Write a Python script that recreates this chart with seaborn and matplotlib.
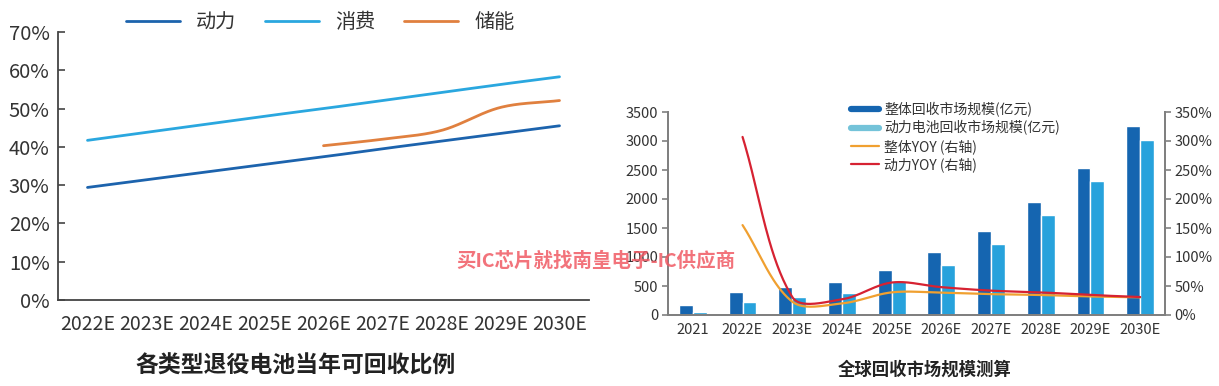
import numpy as np
import pandas as pd
import matplotlib.pyplot as plt
import seaborn as sns
from matplotlib.lines import Line2D

# ---- left chart data (%) ----
years_left = ["2022E", "2023E", "2024E", "2025E", "2026E", "2027E", "2028E", "2029E", "2030E"]
power_ratio = [29.4, 31.4, 33.4, 35.4, 37.4, 39.5, 41.5, 43.5, 45.5]
consumer_ratio = [41.7, 43.8, 45.9, 48.0, 50.0, 52.1, 54.2, 56.3, 58.3]
storage_years = ["2026E", "2027E", "2028E", "2029E", "2030E"]
storage_ratio = [40.3, 42.0, 44.3, 50.3, 52.1]

# ---- right chart data ----
years_right = ["2021", "2022E", "2023E", "2024E", "2025E", "2026E", "2027E", "2028E", "2029E", "2030E"]
total_market = [173, 398, 479, 565, 779, 1084, 1453, 1955, 2537, 3265]
power_market = [58, 219, 311, 381, 588, 865, 1228, 1724, 2307, 3020]
yoy_years = years_right[1:]
total_yoy = [155, 23, 20, 39, 38.5, 36, 34.5, 32, 30.5]
power_yoy = [307, 31, 27, 56, 48, 42, 39, 34.5, 31]

W, H = 1219, 386
TXT = "#333333"

sns.set_theme(style="white")
plt.rcParams["font.family"] = ["Noto Sans CJK SC", "DejaVu Sans"]


def excel_curve(xs, ys, sx, sy, n=40):
    # smoothed line like an office chart, drawn through the data points
    P = np.column_stack([np.asarray(xs, float) * sx, np.asarray(ys, float) * sy])
    k = len(P)
    t = np.linspace(0, 1, n)[1:, None]
    pts = [P[:1]]
    for i in range(k - 1):
        p0, p1 = P[i], P[i + 1]
        pm = P[i - 1] if i > 0 else p0
        pn = P[i + 2] if i + 2 < k else p1
        d0 = np.hypot(*(p0 - pm))
        d1 = np.hypot(*(p1 - p0))
        d2 = np.hypot(*(pn - p1))
        c1 = p0 + (p1 - pm) * d1 / (d0 + d1) / 3
        c2 = p1 - (pn - p0) * d1 / (d1 + d2) / 3
        seg = (1 - t) ** 3 * p0 + 3 * (1 - t) ** 2 * t * c1 + 3 * (1 - t) * t ** 2 * c2 + t ** 3 * p1
        pts.append(seg)
    out = np.vstack(pts)
    return out[:, 0] / sx, out[:, 1] / sy


fig = plt.figure(figsize=(W / 100, H / 100), dpi=100)

# ================= left chart =================
ax1 = fig.add_axes([58 / W, 1 - 300 / H, 531 / W, 268 / H])
c_power, c_cons, c_store = "#1c63ad", "#2aa7df", "#e0803f"
left_series = [
    ("动力", list(range(len(years_left))), power_ratio, c_power),
    ("消费", list(range(len(years_left))), consumer_ratio, c_cons),
    ("储能", [years_left.index(y) for y in storage_years], storage_ratio, c_store),
]
for name, xs, ys, col in left_series:
    cx, cy = excel_curve(xs, ys, 58.5, 3.83)
    sns.lineplot(x=cx, y=cy, sort=False, estimator=None, color=col, lw=2.0, ax=ax1, legend=False)

ax1.set_xlim(-0.5, 8.5)
ax1.set_ylim(0, 70)
ax1.set_xticks(range(len(years_left)))
ax1.set_xticklabels(years_left, fontsize=14, color=TXT)
ax1.set_xticks(np.arange(0.5, 9, 1), minor=True)
ax1.tick_params(axis="x", which="major", length=0, pad=10)
ax1.tick_params(axis="x", which="minor", length=6, width=1.2, direction="in", color="#444444")
ax1.set_yticks(range(0, 71, 10))
ax1.set_yticklabels([f"{v}%" for v in range(0, 71, 10)], fontsize=14.5, color=TXT)
ax1.tick_params(axis="y", length=5, width=1.2, direction="in", color="#444444", left=True, pad=6)
for s in ["top", "right"]:
    ax1.spines[s].set_visible(False)
for s in ["left", "bottom"]:
    ax1.spines[s].set_color("#444444")
    ax1.spines[s].set_linewidth(1.3)
ax1.set_xlabel("")
ax1.set_ylabel("")

left_handles = [Line2D([], [], color=col, lw=2.0) for _, _, _, col in left_series]
fig.legend(left_handles, [s[0] for s in left_series], ncol=3, loc="center",
           bbox_to_anchor=(320 / W, 1 - 23 / H), frameon=False, fontsize=14.5,
           handlelength=2.7, handletextpad=0.8, columnspacing=1.4, labelcolor=TXT)

fig.text(296 / W, 1 - 366 / H, "各类型退役电池当年可回收比例", ha="center", va="center",
         fontsize=16.5, fontweight="bold", color="#222222")

# ================= right chart =================
ax2 = fig.add_axes([668 / W, 1 - 315 / H, 497 / W, 203 / H])
c_total, c_pbar = "#1565b0", "#27a2dc"
c_tyoy, c_pyoy = "#f0a030", "#d62232"
df = pd.DataFrame({
    "year": years_right * 2,
    "value": total_market + power_market,
    "series": ["整体回收市场规模(亿元)"] * len(years_right) + ["动力电池回收市场规模(亿元)"] * len(years_right),
})
sns.barplot(data=df, x="year", y="value", hue="series", palette=[c_total, c_pbar],
            width=0.56, gap=0, saturation=1, ax=ax2, legend=False)
ax2.set_xlim(-0.5, 9.5)
ax2.set_ylim(0, 3500)
ax2.set_yticks(range(0, 3501, 500))
ax2.set_yticklabels([str(v) for v in range(0, 3501, 500)], fontsize=10.5, color=TXT)
ax2.set_xticks(range(len(years_right)))
ax2.set_xticklabels(years_right, fontsize=10.5, color=TXT)
ax2.set_xticks(np.arange(0.5, 9, 1), minor=True)
ax2.tick_params(axis="x", which="major", length=0, pad=6)
ax2.tick_params(axis="x", which="minor", length=4, width=1.2, direction="in", color="#808080")
ax2.tick_params(axis="y", length=4, width=1.2, direction="out", color="#808080", left=True, pad=3)
ax2.set_xlabel("")
ax2.set_ylabel("")

ax2r = ax2.twinx()
yoy_x = [years_right.index(y) for y in yoy_years]
for ys, col in [(total_yoy, c_tyoy), (power_yoy, c_pyoy)]:
    cx, cy = excel_curve(yoy_x, ys, 50, 0.58)
    ax2r.plot(cx, cy, color=col, lw=1.6)
ax2r.set_ylim(0, 350)
ax2r.set_yticks(range(0, 351, 50))
ax2r.set_yticklabels([f"{v}%" for v in range(0, 351, 50)], fontsize=10.5, color=TXT)
ax2r.tick_params(axis="y", length=4, width=1.2, direction="out", color="#808080", right=True, pad=3)
for a in (ax2, ax2r):
    a.spines["top"].set_visible(False)
    for s in ["left", "right", "bottom"]:
        a.spines[s].set_color("#808080")
        a.spines[s].set_linewidth(1.4)

right_handles = [Line2D([], [], color=c_total, lw=4.5), Line2D([], [], color="#74c3d9", lw=4.5),
                 Line2D([], [], color=c_tyoy, lw=1.6), Line2D([], [], color=c_pyoy, lw=1.6)]
right_labels = ["整体回收市场规模(亿元)", "动力电池回收市场规模(亿元)", "整体YOY (右轴)", "动力YOY (右轴)"]
fig.legend(right_handles, right_labels, loc="upper left", bbox_to_anchor=(844 / W, 1 - 95 / H),
           frameon=False, fontsize=10, handlelength=2.0, handletextpad=0.4, labelspacing=0.25,
           borderpad=0, labelcolor=TXT)

fig.text(925 / W, 1 - 370 / H, "全球回收市场规模测算", ha="center", va="center",
         fontsize=12.5, fontweight="bold", color="#222222")

fig.text(596 / W, 1 - 261 / H, "买IC芯片就找南皇电子-IC供应商", ha="center", va="center",
         fontsize=14, fontweight="bold", color="#f05a64", alpha=0.85, zorder=10)

fig.savefig("out.png", dpi=100)
